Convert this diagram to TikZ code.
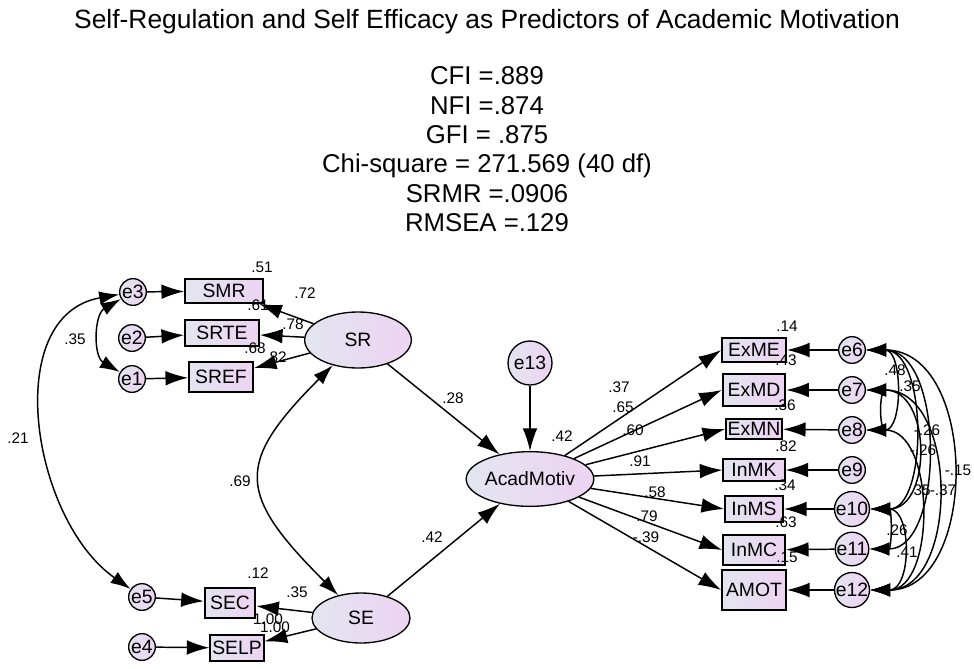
\documentclass[tikz,border=0pt]{standalone}
\usepackage{fontspec}
\setmainfont{Liberation Sans}
\usetikzlibrary{shapes.geometric,arrows.meta}
\definecolor{shadeL}{HTML}{E3E5EF}
\definecolor{shadeR}{HTML}{EDD3F3}
\tikzset{
  obs/.style={draw,line width=1.3pt,rectangle,inner sep=0pt,left color=shadeL,right color=shadeR,font=\fontsize{14.5}{16}\selectfont},
  latent/.style={draw,line width=1pt,ellipse,inner sep=0pt,left color=shadeL,right color=shadeR,font=\fontsize{14.5}{16}\selectfont},
  err/.style={draw,line width=1pt,circle,inner sep=0pt,minimum size=20pt,left color=shadeL,right color=shadeR,font=\fontsize{14.5}{16}\selectfont},
  reg/.style={line width=1.1pt,-{Latex[length=17pt,width=11pt]}},
  cov/.style={line width=1.1pt,{Latex[length=15pt,width=10pt]}-{Latex[length=15pt,width=10pt]}},
  lbl/.style={font=\fontsize{11.5}{12}\selectfont,inner sep=0pt}
}
\begin{document}
\begin{tikzpicture}[x=0.75pt,y=0.75pt]
\useasboundingbox (0,0) rectangle (974,-668);
\node[font=\fontsize{19.8}{22}\selectfont] (title) at (487,-22) {Self-Regulation and Self Efficacy as Predictors of Academic Motivation};
\node[font=\fontsize{19.3}{22}\selectfont,align=center,anchor=north] (fit) at (487,-62) {CFI =.889\\NFI =.874\\GFI = .875\\Chi-square = 271.569 (40 df)\\SRMR =.0906\\RMSEA =.129};
% self-regulation block
\node[latent,minimum width=80pt,minimum height=42pt] (SR) at (358,-340) {SR};
\node[obs,minimum width=58.5pt,minimum height=18pt] (SMR) at (224,-291) {SMR};
\node[obs,minimum width=55.5pt,minimum height=20pt] (SRTE) at (222,-333) {SRTE};
\node[obs,minimum width=48pt,minimum height=22.5pt] (SREF) at (221,-377) {SREF};
\node[err] (e3) at (133,-292) {e3};
\node[err] (e2) at (132,-338) {e2};
\node[err] (e1) at (132,-379) {e1};
% self-efficacy block
\node[latent,minimum width=73.5pt,minimum height=37.5pt] (SE) at (361,-618) {SE};
\node[obs,minimum width=38pt,minimum height=23pt] (SEC) at (230,-603) {SEC};
\node[obs,minimum width=40pt,minimum height=20pt] (SELP) at (237,-648) {SELP};
\node[err] (e5) at (142,-597) {e5};
\node[err] (e4) at (142,-647) {e4};
% outcome
\node[latent,minimum width=73pt,minimum height=41pt] (AM) at (530,-479) {AcadMotiv};
\node[err,minimum size=33pt] (e13) at (530,-363) {e13};
\node[obs,minimum width=48pt,minimum height=18pt] (ExME) at (754,-350) {ExME};
\node[obs,minimum width=47pt,minimum height=24pt] (ExMD) at (754,-390) {ExMD};
\node[obs,minimum width=42pt,minimum height=15pt] (ExMN) at (754,-429) {ExMN};
\node[obs,minimum width=46pt,minimum height=16.5pt] (InMK) at (754,-470) {InMK};
\node[obs,minimum width=43.5pt,minimum height=19pt] (InMS) at (754,-509) {InMS};
\node[obs,minimum width=46.5pt,minimum height=23pt] (InMC) at (754,-550) {InMC};
\node[obs,minimum width=48pt,minimum height=30pt] (AMOT) at (754,-590) {AMOT};
\foreach \n/\y in {6/350,7/390,8/430,9/470,10/509,11/549,12/590}
  \node[err] (e\n) at (852,-\y) {e\n};
% paths
\draw[reg] (e3) -- (SMR);
\draw[reg] (e2) -- (SRTE);
\draw[reg] (e1) -- (SREF);
\draw[reg] (e5) -- (SEC);
\draw[reg] (e4) -- (SELP);
\draw[reg] (SR) -- (SMR);
\draw[reg] (SR) -- (SRTE);
\draw[reg] (SR) -- (SREF);
\draw[reg] (SE) -- (SEC);
\draw[reg] (SE) -- (SELP);
\draw[reg] (SR) -- (AM);
\draw[reg] (SE) -- (AM);
\draw[reg] (e13) -- (AM);
\foreach \b in {ExME,ExMD,ExMN,InMK,InMS,InMC,AMOT}
  \draw[reg] (AM) -- (\b.west);
\draw[reg] (e6) -- (ExME);
\draw[reg] (e7) -- (ExMD);
\draw[reg] (e8) -- (ExMN);
\draw[reg] (e9) -- (InMK);
\draw[reg] (e10) -- (InMS);
\draw[reg] (e11) -- (InMC);
\draw[reg] (e12) -- (AMOT);
% covariances
\draw[cov] (e3) .. controls +(210:45) and +(150:45) .. (e1);
\draw[cov] (e3) .. controls +(190:135) and +(145:135) .. (e5);
\draw[cov] (SR) .. controls +(225:175) and +(135:175) .. (SE);
\draw[cov] (e6) .. controls +(0:51) and +(0:51) .. (e8);
\draw[cov] (e7) .. controls +(0:27) and +(0:27) .. (e8);
\draw[cov] (e6) .. controls +(0:76) and +(0:76) .. (e10);
\draw[cov] (e7) .. controls +(0:80) and +(0:80) .. (e10);
\draw[cov] (e6) .. controls +(0:93) and +(0:93) .. (e11);
\draw[cov] (e6) .. controls +(0:127) and +(0:127) .. (e12);
\draw[cov] (e7) .. controls +(0:107) and +(0:107) .. (e12);
\draw[cov] (e8) .. controls +(0:84) and +(0:84) .. (e12);
\draw[cov] (e10) .. controls +(0:40) and +(0:40) .. (e11);
\draw[cov] (e10) .. controls +(0:60) and +(0:60) .. (e12);
% estimates
\node[lbl] (r51) at (262,-267) {.51};
\node[lbl] (w72) at (305,-293) {.72};
\node[lbl] (r61) at (258,-305) {.61};
\node[lbl] (w78) at (293,-324) {.78};
\node[lbl] (r68) at (255,-348) {.68};
\node[lbl] (w82) at (276,-357) {.82};
\node[lbl] (c35a) at (75,-339) {.35};
\node[lbl] (c21) at (18,-438) {.21};
\node[lbl] (c69) at (240,-481) {.69};
\node[lbl] (r12) at (258,-573) {.12};
\node[lbl] (w35) at (297,-592) {.35};
\node[lbl] (w100a) at (268,-619) {1.00};
\node[lbl] (w100b) at (275,-627) {1.00};
\node[lbl] (b28) at (453,-398) {.28};
\node[lbl] (b42) at (432,-537) {.42};
\node[lbl] (r42) at (562,-436) {.42};
\node[lbl] (w37) at (619,-387) {.37};
\node[lbl] (w65) at (623,-407) {.65};
\node[lbl] (w60) at (633,-430) {.60};
\node[lbl] (w91) at (640,-461) {.91};
\node[lbl] (w58) at (655,-492) {.58};
\node[lbl] (w79) at (647,-516) {.79};
\node[lbl] (w39) at (646,-537) {-.39};
\node[lbl] (r14) at (787,-326) {.14};
\node[lbl] (r43) at (786,-360) {.43};
\node[lbl] (r36) at (785,-405) {.36};
\node[lbl] (r82) at (786,-446) {.82};
\node[lbl] (r34) at (785,-485) {.34};
\node[lbl] (r63) at (786,-522) {.63};
\node[lbl] (r15) at (787,-557) {.15};
\node[lbl] (c48) at (895,-370) {.48};
\node[lbl] (c35b) at (910,-386) {.35};
\node[lbl] (c26a) at (927,-430) {-.26};
\node[lbl] (c26b) at (923,-450) {-.26};
\node[lbl] (c15) at (958,-470) {-.15};
\node[lbl] (c35c) at (920,-490) {.35};
\node[lbl] (c37) at (943,-490) {-.37};
\node[lbl] (c26c) at (897,-530) {.26};
\node[lbl] (c41) at (907,-552) {.41};
\end{tikzpicture}
\end{document}
